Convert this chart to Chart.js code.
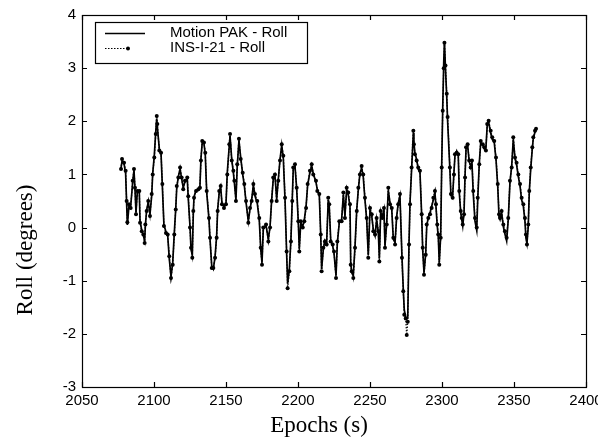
<!DOCTYPE html>
<html>
<head>
<meta charset="utf-8">
<script src="https://cdn.jsdelivr.net/npm/chart.js@4"></script>
<style>
  html, body { margin: 0; padding: 0; background: #fff; }
  #wrap { width: 598px; height: 443px; position: relative; }
</style>
</head>
<body>
<div id="wrap"><canvas id="myChart"></canvas></div>
<script>
// epochs (s) shared by both sensors
const epochs = [
  2077.1, 2077.8, 2079.2, 2080.3, 2081.0, 2081.5, 2082.6, 2083.8, 2085.2, 2086.1,
  2086.8, 2087.5, 2088.4, 2089.8, 2090.3, 2091.5, 2092.6, 2093.5, 2094.0, 2094.9,
  2096.0, 2097.2, 2098.4, 2099.1, 2100.2, 2101.2, 2101.9, 2102.3, 2103.7, 2104.9,
  2105.8, 2106.9, 2108.3, 2109.5, 2110.6, 2111.8, 2113.0, 2114.1, 2115.1, 2115.8,
  2116.9, 2118.1, 2119.2, 2120.3, 2121.5, 2123.1, 2123.8, 2125.0, 2125.7, 2126.6,
  2127.3, 2127.8, 2129.2, 2130.8, 2131.9, 2132.6, 2133.5, 2134.7, 2135.6, 2136.6,
  2138.2, 2138.9, 2140.1, 2141.2, 2142.4, 2143.5, 2144.2, 2145.3, 2146.3, 2147.2,
  2148.6, 2150.0, 2150.9, 2152.3, 2152.8, 2154.0, 2155.1, 2155.8, 2156.9, 2157.8,
  2159.0, 2160.2, 2161.6, 2162.7, 2163.9, 2165.5, 2166.7, 2167.8, 2169.0, 2170.1,
  2171.7, 2173.1, 2174.1, 2175.0, 2175.9, 2177.8, 2179.4, 2180.6, 2181.7, 2182.8,
  2184.0, 2185.2, 2186.3, 2187.5, 2188.7, 2189.8, 2191.0, 2192.1, 2192.8, 2194.0,
  2195.1, 2196.0, 2196.7, 2197.9, 2199.1, 2200.2, 2200.9, 2201.9, 2203.3, 2204.4,
  2205.6, 2206.7, 2208.3, 2209.5, 2210.6, 2212.5, 2213.4, 2214.8, 2215.8, 2216.4,
  2217.6, 2218.7, 2219.9, 2221.0, 2221.7, 2222.7, 2224.1, 2225.0, 2226.4, 2227.3,
  2228.7, 2230.3, 2231.5, 2232.6, 2233.8, 2234.9, 2236.1, 2236.6, 2237.3, 2238.4,
  2239.6, 2240.8, 2241.9, 2243.0, 2244.2, 2245.3, 2246.5, 2247.7, 2248.8, 2250.0,
  2251.2, 2252.3, 2253.5, 2254.6, 2255.8, 2256.5, 2257.4, 2258.5, 2259.7, 2260.4,
  2261.6, 2262.7, 2263.9, 2265.1, 2266.2, 2267.4, 2268.5, 2269.6, 2270.8, 2272.2,
  2273.1, 2273.8, 2274.8, 2275.5, 2276.2, 2277.1, 2277.8, 2278.9, 2280.1, 2280.5,
  2281.2, 2282.4, 2283.5, 2284.7, 2285.9, 2286.6, 2287.5, 2288.7, 2289.4, 2290.5,
  2291.7, 2292.8, 2294.0, 2295.1, 2295.8, 2296.7, 2297.4, 2298.1, 2299.1, 2299.8,
  2300.5, 2301.2, 2301.7, 2302.4, 2303.3, 2303.9, 2305.5, 2306.2, 2307.4, 2308.3,
  2309.0, 2310.2, 2311.3, 2312.0, 2313.0, 2313.7, 2314.4, 2315.3, 2316.0, 2316.7,
  2317.8, 2318.9, 2319.9, 2320.8, 2321.7, 2322.9, 2324.1, 2324.8, 2325.9, 2326.9,
  2328.3, 2329.4, 2330.5, 2331.4, 2332.4, 2333.8, 2334.9, 2336.3, 2337.5, 2338.7,
  2339.6, 2340.3, 2341.4, 2342.6, 2343.7, 2344.9, 2346.0, 2347.2, 2348.4, 2349.5,
  2350.7, 2351.8, 2353.0, 2354.2, 2355.3, 2356.5, 2357.6, 2358.3, 2359.0, 2359.9,
  2360.6, 2361.6, 2362.7, 2363.4, 2364.6, 2365.3
];

// INS-I-21 roll (degrees)
const insRoll = [
  1.10, 1.29, 1.22, 1.07, 0.50, 0.10, 0.44, 0.37, 0.88, 1.10,
  0.75, 0.25, 0.69, 0.69, 0.09, -0.07, -0.13, -0.29, 0.06, 0.31,
  0.50, 0.22, 0.63, 1.00, 1.32, 1.76, 2.10, 1.95, 1.45, 1.41,
  0.82, 0.03, -0.10, -0.13, -0.54, -0.95, -0.70, -0.13, 0.34, 0.78,
  0.94, 1.13, 0.94, 0.72, 0.88, 0.94, 0.59, 0.00, -0.38, -0.57,
  0.31, 0.56, 0.69, 0.72, 0.75, 1.26, 1.63, 1.60, 1.41, 0.69,
  0.18, -0.19, -0.76, -0.76, -0.57, -0.19, 0.31, 0.69, 0.78, 0.44,
  0.37, 0.44, 1.00, 1.57, 1.76, 1.26, 1.07, 0.88, 0.50, 1.19,
  1.67, 1.29, 1.03, 0.82, 0.50, 0.09, 0.37, 0.50, 0.82, 0.63,
  0.50, 0.18, -0.38, -0.70, 0.00, 0.06, -0.26, 0.00, 0.50, 0.94,
  1.00, 0.50, 0.88, 1.26, 1.57, 1.35, 0.56, -0.45, -1.14, -0.82,
  -0.26, 0.50, 1.13, 1.19, 0.75, 0.12, -0.45, 0.12, 0.00, 0.12,
  0.37, 0.82, 1.07, 1.19, 1.00, 0.88, 0.69, 0.63, -0.13, -0.82,
  -0.38, -0.26, -0.32, 0.56, 0.44, -0.26, -0.32, -0.45, -0.95, -0.26,
  0.12, 0.12, 0.66, 0.18, 0.75, 0.66, 0.44, -0.70, -0.82, -0.95,
  -0.38, 0.31, 0.75, 1.00, 1.16, 1.00, 0.56, 0.18, -0.57, 0.37,
  0.25, -0.07, -0.13, 0.18, -0.07, -0.64, 0.31, 0.18, 0.37, -0.38,
  0.06, 0.75, 0.44, 0.37, -0.19, -0.32, 0.18, 0.44, 0.63, -0.57,
  -1.20, -1.64, -1.71, -2.02, -1.77, -0.32, 0.44, 1.13, 1.82, 1.57,
  1.38, 1.26, 1.13, 1.07, 0.25, -0.38, -0.89, -0.51, 0.06, 0.18,
  0.25, 0.37, 0.56, 0.69, 0.44, 0.06, -0.13, -0.70, -0.19, 1.13,
  2.20, 3.00, 3.48, 3.05, 2.52, 2.08, 1.13, 0.63, 0.56, 1.00,
  1.38, 1.41, 1.38, 0.69, 0.31, 0.18, 0.06, 0.25, 0.94, 1.51,
  1.57, 1.26, 1.13, 1.26, 0.69, 0.18, 0.00, 0.56, 1.19, 1.63,
  1.57, 1.51, 1.45, 1.95, 2.01, 1.82, 1.70, 1.63, 1.32, 0.82,
  0.25, 0.18, 0.31, 0.06, -0.07, -0.19, 0.18, 0.88, 1.13, 1.70,
  1.32, 1.22, 1.00, 0.82, 0.56, 0.44, 0.18, -0.13, -0.32, 0.06,
  0.69, 1.13, 1.51, 1.70, 1.82, 1.86
];

// Motion PAK roll (degrees)
const motionPakRoll = [
  1.12, 1.25, 1.20, 1.02, 0.45, 0.05, 0.40, 0.40, 0.85, 1.08,
  0.72, 0.28, 0.66, 0.66, 0.12, -0.05, -0.15, -0.25, 0.04, 0.33,
  0.48, 0.25, 0.60, 1.02, 1.35, 1.80, 2.05, 1.90, 1.48, 1.38,
  0.78, 0.05, -0.08, -0.15, -0.58, -0.92, -0.66, -0.10, 0.36, 0.75,
  0.96, 1.10, 0.92, 0.75, 0.86, 0.92, 0.55, 0.02, -0.40, -0.52,
  0.28, 0.58, 0.70, 0.70, 0.78, 1.30, 1.60, 1.58, 1.38, 0.66,
  0.15, -0.22, -0.72, -0.78, -0.55, -0.16, 0.34, 0.66, 0.76, 0.46,
  0.40, 0.46, 1.04, 1.55, 1.72, 1.28, 1.04, 0.85, 0.52, 1.15,
  1.64, 1.32, 1.00, 0.80, 0.48, 0.12, 0.35, 0.52, 0.80, 0.60,
  0.46, 0.15, -0.40, -0.66, -0.03, 0.04, -0.22, 0.02, 0.52, 0.90,
  0.98, 0.54, 0.90, 1.28, 1.55, 1.30, 0.52, -0.48, -1.05, -0.78,
  -0.22, 0.52, 1.10, 1.16, 0.72, 0.10, -0.40, 0.08, 0.03, 0.15,
  0.40, 0.80, 1.04, 1.16, 1.02, 0.85, 0.72, 0.60, -0.16, -0.78,
  -0.40, -0.24, -0.28, 0.52, 0.40, -0.22, -0.35, -0.48, -0.90, -0.30,
  0.10, 0.15, 0.62, 0.22, 0.72, 0.62, 0.40, -0.66, -0.85, -0.90,
  -0.35, 0.34, 0.72, 1.02, 1.12, 0.96, 0.52, 0.15, -0.52, 0.33,
  0.22, -0.04, -0.15, 0.15, -0.10, -0.58, 0.28, 0.20, 0.34, -0.34,
  0.08, 0.70, 0.46, 0.34, -0.22, -0.28, 0.20, 0.46, 0.60, -0.55,
  -1.15, -1.55, -1.68, -1.72, -1.70, -0.28, 0.48, 1.10, 1.78, 1.60,
  1.40, 1.28, 1.10, 1.04, 0.22, -0.42, -0.85, -0.48, 0.03, 0.20,
  0.28, 0.40, 0.52, 0.66, 0.40, 0.03, -0.16, -0.66, -0.15, 1.18,
  2.25, 3.10, 3.50, 3.00, 2.45, 2.00, 1.08, 0.60, 0.60, 1.04,
  1.35, 1.44, 1.35, 0.66, 0.28, 0.15, 0.03, 0.28, 0.98, 1.48,
  1.54, 1.24, 1.16, 1.22, 0.64, 0.12, -0.05, 0.52, 1.22, 1.60,
  1.55, 1.48, 1.50, 1.92, 1.98, 1.78, 1.66, 1.60, 1.28, 0.78,
  0.20, 0.15, 0.28, 0.02, -0.12, -0.25, 0.15, 0.85, 1.16, 1.66,
  1.30, 1.18, 0.96, 0.78, 0.52, 0.40, 0.12, -0.20, -0.30, 0.02,
  0.66, 1.10, 1.48, 1.68, 1.80, 1.85
];

const xTicks = [2050, 2100, 2150, 2200, 2250, 2300, 2350, 2400];
const yTicks = [-3, -2, -1, 0, 1, 2, 3, 4];
const seriesNames = ['Motion PAK - Roll', 'INS-I-21 - Roll'];

const sans = '"Liberation Sans", Arial, Helvetica, sans-serif';
const serif = '"Liberation Serif", "Times New Roman", serif';

// frame, inward ticks, legend box and axis titles (matlab style)
const frameLegend = {
  id: 'frameLegend',
  afterDraw(chart) {
    const c = chart.ctx;
    const a = chart.chartArea;
    const xs = chart.scales.x, ys = chart.scales.y;
    c.save();
    c.strokeStyle = '#000';
    c.lineWidth = 1.2;
    c.strokeRect(Math.round(a.left) + 0.5, Math.round(a.top) + 0.5,
      Math.round(a.right - a.left), Math.round(a.bottom - a.top));
    const tl = 5;
    c.beginPath();
    xTicks.forEach(v => {
      const px = Math.round(xs.getPixelForValue(v)) + 0.5;
      c.moveTo(px, a.bottom); c.lineTo(px, a.bottom - tl);
      c.moveTo(px, a.top); c.lineTo(px, a.top + tl);
    });
    yTicks.forEach(v => {
      const py = Math.round(ys.getPixelForValue(v)) + 0.5;
      c.moveTo(a.left, py); c.lineTo(a.left + tl, py);
      c.moveTo(a.right, py); c.lineTo(a.right - tl, py);
    });
    c.stroke();

    // legend
    const lx = 95, ly = 22, lw = 212, lh = 41;
    c.fillStyle = '#fff';
    c.fillRect(lx, ly, lw, lh);
    c.lineWidth = 1.2;
    c.strokeRect(lx + 0.5, ly + 0.5, lw, lh);
    c.strokeStyle = '#000';
    c.lineWidth = 1.6;
    c.beginPath(); c.moveTo(105, 33.5); c.lineTo(145, 33.5); c.stroke();
    c.lineWidth = 1.2;
    c.setLineDash([1.5, 1.5]);
    c.beginPath(); c.moveTo(105, 48.5); c.lineTo(128, 48.5); c.stroke();
    c.setLineDash([]);
    c.fillStyle = '#000';
    c.beginPath(); c.arc(128, 48.5, 2, 0, Math.PI * 2); c.fill();
    c.font = '15px ' + sans;
    c.textBaseline = 'middle';
    c.textAlign = 'left';
    c.fillText(seriesNames[0], 170, 33);
    c.fillText(seriesNames[1], 170, 48);

    // axis titles
    c.font = '23px ' + serif;
    c.textAlign = 'center';
    c.fillText('Epochs (s)', 319, 426);
    c.translate(26, 250);
    c.rotate(-Math.PI / 2);
    c.fillText('Roll (degrees)', 0, 0);
    c.restore();
  }
};

const ctx = document.getElementById('myChart').getContext('2d');
const chart = new Chart(ctx, {
  type: 'scatter',
  data: {
    datasets: [{
      label: seriesNames[0],
      data: epochs.map((t, i) => ({ x: t, y: motionPakRoll[i] })),
      showLine: true,
      borderColor: '#000',
      borderWidth: 1.7,
      pointRadius: 0,
      tension: 0
    }, {
      label: seriesNames[1],
      data: epochs.map((t, i) => ({ x: t, y: insRoll[i] })),
      showLine: true,
      borderColor: '#111',
      borderWidth: 1.3,
      borderDash: [1.5, 1.5],
      pointRadius: 2,
      pointBackgroundColor: '#000',
      pointBorderWidth: 0,
      tension: 0
    }]
  },
  options: {
    responsive: true,
    maintainAspectRatio: false,
    animation: false,
    devicePixelRatio: 1,
    layout: { padding: { top: 13, right: 12, left: 0, bottom: 0 } },
    plugins: { legend: { display: false }, tooltip: { enabled: false } },
    scales: {
      x: {
        type: 'linear',
        min: 2050, max: 2400,
        afterBuildTicks: s => { s.ticks = xTicks.map(v => ({ value: v })); },
        afterFit: s => { s.height = 56; s.paddingLeft = 0; s.paddingRight = 0; },
        grid: { display: false, drawTicks: false },
        border: { display: false },
        ticks: { color: '#000', font: { family: sans, size: 15 }, padding: 5, maxRotation: 0, callback: v => String(v) }
      },
      y: {
        min: -3, max: 4,
        afterBuildTicks: s => { s.ticks = yTicks.map(v => ({ value: v })); },
        afterFit: s => { s.width = 82; },
        grid: { display: false, drawTicks: false },
        border: { display: false },
        ticks: { color: '#000', font: { family: sans, size: 15 }, padding: 6, callback: v => String(v) }
      }
    }
  },
  plugins: [frameLegend]
});
</script>
</body>
</html>
